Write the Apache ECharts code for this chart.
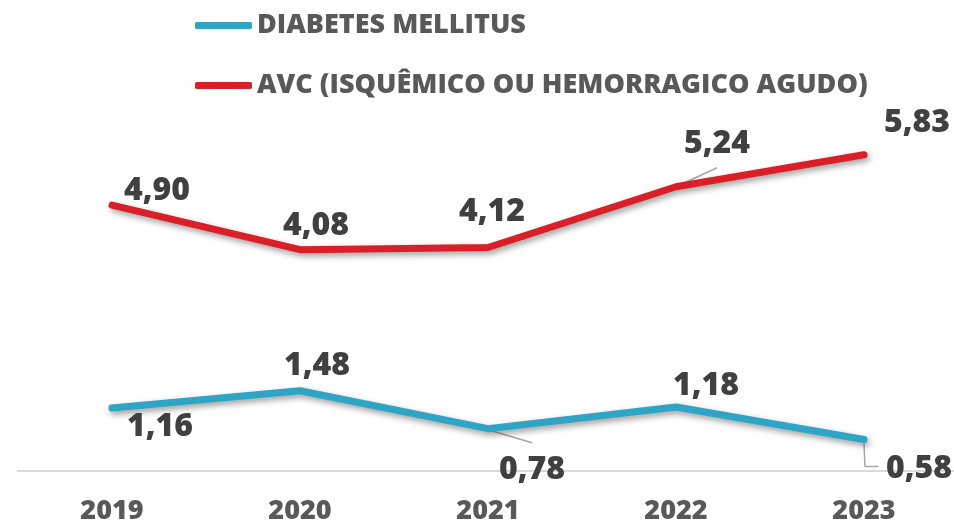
<!DOCTYPE html>
<html>
<head>
<meta charset="utf-8">
<script src="https://cdn.jsdelivr.net/npm/echarts@6/dist/echarts.min.js"></script>
<style>
  html, body { margin: 0; padding: 0; background: #fff; }
  #chart { width: 954px; height: 523px; }
</style>
</head>
<body>
<div id="chart"></div>
<script>
var years = ['2019', '2020', '2021', '2022', '2023'];
var diabetesName = 'DIABETES MELLITUS';
var avcName = 'AVC (ISQUÊMICO OU HEMORRAGICO AGUDO)';
var diabetes = [1.16, 1.48, 0.78, 1.18, 0.58];
var avc = [4.90, 4.08, 4.12, 5.24, 5.83];

// label placement, as offset from the point
var diabetesLabelPos = [[48, 19], [17, -25], [44, 41], [30, -21], [55, 29]];
var avcLabelPos = [[45, -14], [16, -24], [4, -36], [41, -43], [53, -32]];

// leader lines: series index, category index, path relative to the point
var leaders = [
    { s: 1, i: 3, path: [[0, 0], [41, -19]] },
    { s: 0, i: 2, path: [[0, 1], [44, 14]] },
    { s: 0, i: 4, path: [[0, 4], [1, 27], [14, 27]] }
];

function fmt(v) {
    return v.toFixed(2).replace('.', ',');
}

function buildData(values, pos) {
    return values.map(function (v, i) {
        return { value: v, label: { offset: pos[i] } };
    });
}

var chart = echarts.init(document.getElementById('chart'));

var lineShadow = {
    shadowColor: 'rgba(0,0,0,0.4)',
    shadowBlur: 6,
    shadowOffsetX: 2,
    shadowOffsetY: 3
};

function makeSeries(name, values, color, pos) {
    return {
        name: name,
        type: 'line',
        data: buildData(values, pos),
        symbol: 'circle',
        symbolSize: 4,
        itemStyle: { color: color },
        lineStyle: Object.assign({ color: color, width: 7, cap: 'round', join: 'round' }, lineShadow),
        label: {
            show: true,
            position: 'inside',
            color: '#404040',
            fontFamily: 'Open Sans',
            fontWeight: 800,
            fontSize: 32,
            formatter: function (p) { return fmt(p.value); }
        }
    };
}

var seriesValues = [diabetes, avc];

var option = {
    animation: false,
    legend: {
        orient: 'vertical',
        left: 190,
        top: 7,
        itemWidth: 57,
        itemHeight: 7,
        itemGap: 33,
        icon: 'roundRect',
        textStyle: {
            color: '#595959',
            fontFamily: 'Open Sans',
            fontWeight: 800,
            fontSize: 27
        },
        data: [diabetesName, avcName]
    },
    grid: {
        left: 18,
        width: 940,
        top: 37,
        bottom: 52,
        containLabel: false,
        outerBoundsMode: 'none'
    },
    xAxis: {
        type: 'category',
        data: years,
        boundaryGap: true,
        axisLine: { lineStyle: { color: '#D9D9D9', width: 2 } },
        axisTick: { show: false },
        axisLabel: {
            color: '#595959',
            fontFamily: 'Open Sans',
            fontWeight: 800,
            fontSize: 27,
            margin: 27
        }
    },
    yAxis: {
        type: 'value',
        min: 0,
        max: 8,
        show: false,
        splitLine: { show: false }
    },
    series: [
        makeSeries(diabetesName, diabetes, '#2EA5C4', diabetesLabelPos),
        makeSeries(avcName, avc, '#DA1F28', avcLabelPos)
    ]
};

chart.setOption(option);

// leader lines from point to label
var graphics = leaders.map(function (l) {
    var p = chart.convertToPixel({ seriesIndex: l.s }, [l.i, seriesValues[l.s][l.i]]);
    return {
        type: 'polyline',
        z: 1,
        shape: { points: l.path.map(function (d) { return [p[0] + d[0], p[1] + d[1]]; }) },
        style: { stroke: '#A6A6A6', lineWidth: 1.5, fill: null }
    };
});
chart.setOption({ graphic: graphics });
</script>
</body>
</html>
